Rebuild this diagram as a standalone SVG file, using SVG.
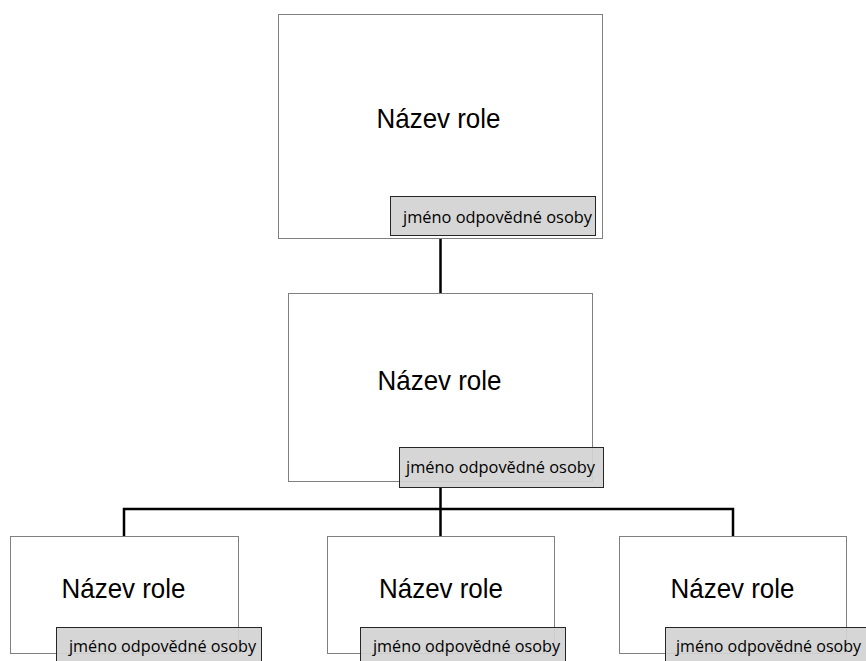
<svg xmlns="http://www.w3.org/2000/svg" width="866" height="661" viewBox="0 0 866 661">
<style>
.box{fill:#ffffff;stroke:#808080;stroke-width:1}
.lab{fill:#d3d3d3;stroke:#262626;stroke-width:1;fill-opacity:0.92}
.name{font-family:"Liberation Sans",Arial,sans-serif;font-size:28.5px;fill:#000}
.person{font-family:"Open Sans","Liberation Sans",sans-serif;font-size:17px;fill:#000}
.conn{fill:none;stroke:#000;stroke-width:2.5}
</style>
<rect width="866" height="661" fill="#ffffff"/>
<g id="connectors">
<line class="conn" x1="440.5" y1="239" x2="440.5" y2="293"/>
<line class="conn" x1="440.5" y1="487" x2="440.5" y2="537"/>
<polyline class="conn" points="124,537 124,509 733,509 733,537"/>
</g>
<g id="node-top">
<rect class="box" x="278.5" y="14.5" width="324" height="224"/>
<text class="name" x="376.5" y="128" textLength="124" lengthAdjust="spacingAndGlyphs">Název role</text>
<rect class="lab" x="390.5" y="196.5" width="205" height="39"/>
<text class="person" x="403" y="223" textLength="189" lengthAdjust="spacingAndGlyphs">jméno odpovědné osoby</text>
</g>
<g id="node-middle">
<rect class="box" x="288.5" y="293.5" width="304" height="188"/>
<text class="name" x="377.5" y="390" textLength="124" lengthAdjust="spacingAndGlyphs">Název role</text>
<rect class="lab" x="399.5" y="447.5" width="204" height="40"/>
<text class="person" x="406" y="473" textLength="189" lengthAdjust="spacingAndGlyphs">jméno odpovědné osoby</text>
</g>
<g id="node-left">
<rect class="box" x="10.5" y="536.5" width="228" height="117"/>
<text class="name" x="61.5" y="598" textLength="124" lengthAdjust="spacingAndGlyphs">Název role</text>
<rect class="lab" x="56.5" y="627.5" width="205" height="40"/>
<text class="person" x="69" y="652" textLength="187" lengthAdjust="spacingAndGlyphs">jméno odpovědné osoby</text>
</g>
<g id="node-center">
<rect class="box" x="327.5" y="536.5" width="227" height="117"/>
<text class="name" x="379" y="598" textLength="124" lengthAdjust="spacingAndGlyphs">Název role</text>
<rect class="lab" x="360.5" y="627.5" width="205" height="40"/>
<text class="person" x="373" y="652" textLength="187" lengthAdjust="spacingAndGlyphs">jméno odpovědné osoby</text>
</g>
<g id="node-right">
<rect class="box" x="619.5" y="536.5" width="227" height="117"/>
<text class="name" x="670.5" y="598" textLength="124" lengthAdjust="spacingAndGlyphs">Název role</text>
<rect class="lab" x="665.5" y="627.5" width="205" height="40"/>
<text class="person" x="676" y="652" textLength="185" lengthAdjust="spacingAndGlyphs">jméno odpovědné osoby</text>
</g>
</svg>
